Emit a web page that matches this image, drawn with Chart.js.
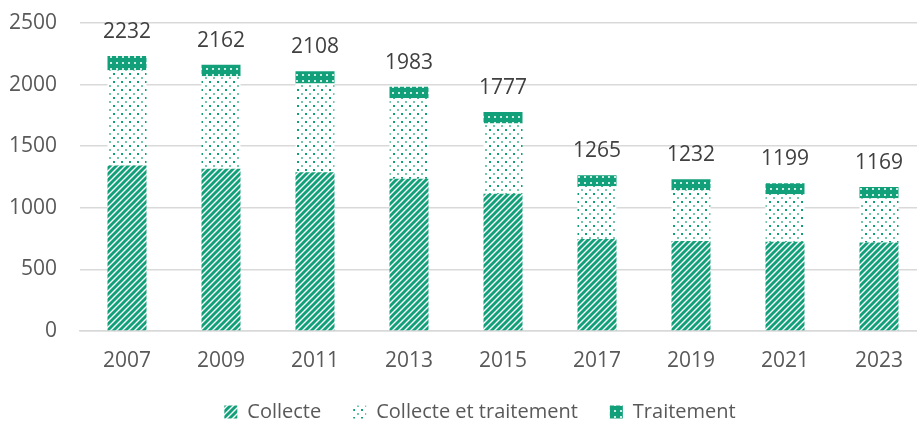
<!DOCTYPE html>
<html>
<head>
<meta charset="utf-8">
<script src="https://cdn.jsdelivr.net/npm/chart.js@4/dist/chart.umd.min.js"></script>
<style>
  html, body { margin: 0; padding: 0; background: #fff; }
  #wrap { width: 917px; height: 421px; overflow: hidden; }
</style>
</head>
<body>
<div id="wrap"><canvas id="chart" width="940" height="421"></canvas></div>
<script>
// Données du graphique
const years = ['2007', '2009', '2011', '2013', '2015', '2017', '2019', '2021', '2023'];
const collecte = [1343, 1316, 1289, 1235, 1114, 747, 730, 725, 719];
const collecteTraitement = [773, 751, 719, 654, 570, 428, 413, 385, 359];
const traitement = [116, 95, 100, 94, 93, 90, 89, 89, 91];
const totals = [2232, 2162, 2108, 1983, 1777, 1265, 1232, 1199, 1169];
const yTicks = [0, 500, 1000, 1500, 2000, 2500];

const GREEN = '#12a07a';
const FONT = "'Open Sans', sans-serif";

// Motifs (hachures) façon Excel
function makePattern(size, draw) {
    const c = document.createElement('canvas');
    c.width = size;
    c.height = size;
    const g = c.getContext('2d');
    draw(g);
    return g.createPattern(c, 'repeat');
}

const stripes = makePattern(6, g => {
    g.fillStyle = '#fff';
    g.fillRect(0, 0, 6, 6);
    g.strokeStyle = GREEN;
    g.lineWidth = 2.9;
    g.beginPath();
    g.moveTo(-1, 7); g.lineTo(7, -1);
    g.moveTo(-4, 4); g.lineTo(4, -4);
    g.moveTo(2, 10); g.lineTo(10, 2);
    g.stroke();
});

const dots = makePattern(8, g => {
    g.fillStyle = '#fff';
    g.fillRect(0, 0, 8, 8);
    g.fillStyle = GREEN;
    g.fillRect(1, 1, 2, 2);
    g.globalAlpha = 0.6;
    g.fillRect(5, 5, 2, 2);
});

const dense = makePattern(6, g => {
    g.fillStyle = GREEN;
    g.fillRect(0, 0, 6, 6);
    g.fillStyle = 'rgba(255,255,255,0.8)';
    g.fillRect(2, 2, 2, 2);
});

// Étiquettes des totaux au-dessus des barres
const totalLabels = {
    id: 'totalLabels',
    afterDatasetsDraw(chart) {
        const ctx = chart.ctx;
        const x = chart.scales.x;
        const y = chart.scales.y;
        ctx.save();
        ctx.font = '21px ' + FONT;
        ctx.fillStyle = '#404040';
        ctx.textAlign = 'center';
        ctx.textBaseline = 'middle';
        totals.forEach((t, i) => {
            ctx.fillText(String(t), x.getPixelForValue(i), y.getPixelForValue(t) - 24);
        });
        ctx.restore();
    }
};

// petit décalage de la légende pour la centrer comme dans Excel
const legendShift = {
    id: 'legendShift',
    afterLayout(chart) {
        const lg = chart.legend;
        lg.left += 12; lg.right += 12;
        lg.top -= 4; lg.bottom += 10;
    }
};

new Chart(document.getElementById('chart'), {
    type: 'bar',
    data: {
        labels: years,
        datasets: [
            { label: 'Collecte', data: collecte, backgroundColor: stripes },
            { label: 'Collecte et traitement', data: collecteTraitement, backgroundColor: dots },
            { label: 'Traitement', data: traitement, backgroundColor: dense }
        ]
    },
    options: {
        responsive: false,
        animation: false,
        devicePixelRatio: 1,
        barPercentage: 0.415,
        categoryPercentage: 1,
        layout: { padding: { left: 10, right: 14, top: 23, bottom: 0 } },
        plugins: {
            tooltip: { enabled: false },
            legend: {
                position: 'bottom',
                maxHeight: 47,
                labels: {
                    color: '#595959',
                    font: { family: FONT, size: 20 },
                    boxWidth: 13,
                    boxHeight: 13,
                    padding: 32
                }
            }
        },
        scales: {
            x: {
                stacked: true,
                afterFit(scale) { scale.height = 43; },
                grid: { display: false, drawTicks: false },
                border: { color: '#d9d9d9', width: 1.5 },
                ticks: { color: '#595959', font: { family: FONT, size: 21 }, padding: 17 }
            },
            y: {
                stacked: true,
                min: 0,
                max: 2500,
                afterBuildTicks(scale) { scale.ticks = yTicks.map(v => ({ value: v })); },
                afterFit(scale) {
                    scale.width = 70;
                    scale.paddingTop = 0;
                    scale.paddingBottom = 0;
                },
                grid: { color: '#d9d9d9', lineWidth: 1.5, drawTicks: false },
                border: { display: false },
                ticks: {
                    color: '#595959',
                    font: { family: FONT, size: 21 },
                    padding: 23,
                    callback: v => String(v)
                }
            }
        }
    },
    plugins: [totalLabels, legendShift]
});
</script>
</body>
</html>
